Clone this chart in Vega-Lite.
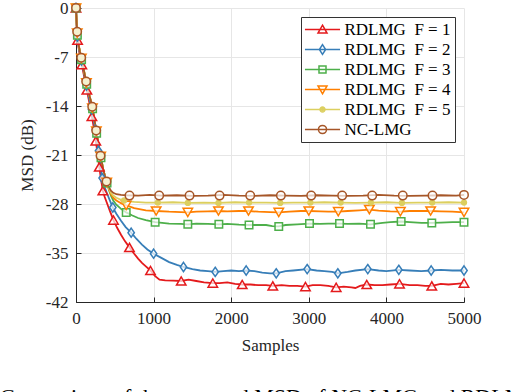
{
  "$schema": "https://vega.github.io/schema/vega-lite/v6.json",
  "width": 388,
  "height": 294,
  "autosize": {"type": "none"},
  "padding": {"left": 76, "top": 8, "right": 54, "bottom": 90},
  "background": "white",
  "title": {"text": "Comparison of the averaged MSD of NC-LMG and RDLMG", "orient": "bottom", "anchor": "start", "frame": "group", "dx": -76, "offset": 34, "font": "Liberation Serif", "fontSize": 22, "fontWeight": "normal", "color": "black"},
  "config": {
    "view": {"stroke": null},
    "axis": {"labelFont": "Liberation Serif", "labelFontSize": 17, "labelColor": "#262626", "titleFont": "Liberation Serif", "titleFontSize": 17, "titleFontWeight": "normal", "titleColor": "#262626", "domainColor": "#262626", "tickColor": "#262626", "gridColor": "#e6e6e6", "gridWidth": 1, "labelFlush": false, "labelOverlap": false, "labelBound": false},
    "legend": {"orient": "top-right", "offset": 9, "padding": 4, "strokeColor": "#333333", "fillColor": "white", "labelFont": "Liberation Serif", "labelFontSize": 17, "labelColor": "black", "symbolSize": 81, "symbolOffset": 9, "labelOffset": 13.5, "rowPadding": 2, "symbolStrokeWidth": 1.5, "labelLimit": 300}
  },
  "datasets": {
    "lines": [
      {"s":"F1","x":0,"y":0},{"s":"F1","x":10,"y":-2.9},{"s":"F1","x":20,"y":-4.6},{"s":"F1","x":35,"y":-5.8},{"s":"F1","x":50,"y":-6.8},{"s":"F1","x":75,"y":-8.1},{"s":"F1","x":100,"y":-9.5},{"s":"F1","x":125,"y":-10.9},{"s":"F1","x":150,"y":-12.3},{"s":"F1","x":175,"y":-13.7},{"s":"F1","x":200,"y":-15.2},{"s":"F1","x":225,"y":-16.8},{"s":"F1","x":250,"y":-18.6},{"s":"F1","x":275,"y":-20.6},{"s":"F1","x":300,"y":-22.7},{"s":"F1","x":320,"y":-24.3},{"s":"F1","x":346,"y":-26.1},{"s":"F1","x":370,"y":-27.0},{"s":"F1","x":400,"y":-27.9},{"s":"F1","x":440,"y":-29.1},{"s":"F1","x":483,"y":-30.3},{"s":"F1","x":530,"y":-31.4},{"s":"F1","x":580,"y":-32.4},{"s":"F1","x":630,"y":-33.3},{"s":"F1","x":689,"y":-34.2},{"s":"F1","x":750,"y":-35.1},{"s":"F1","x":800,"y":-35.8},{"s":"F1","x":850,"y":-36.4},{"s":"F1","x":900,"y":-36.9},{"s":"F1","x":960,"y":-37.5},{"s":"F1","x":1020,"y":-38.3},{"s":"F1","x":1076,"y":-38.8},{"s":"F1","x":1150,"y":-38.9},{"s":"F1","x":1250,"y":-38.95},{"s":"F1","x":1356,"y":-39.0},{"s":"F1","x":1450,"y":-38.8},{"s":"F1","x":1550,"y":-39.0},{"s":"F1","x":1650,"y":-39.2},{"s":"F1","x":1763,"y":-39.3},{"s":"F1","x":1850,"y":-39.3},{"s":"F1","x":1950,"y":-39.2},{"s":"F1","x":2050,"y":-39.4},{"s":"F1","x":2142,"y":-39.5},{"s":"F1","x":2250,"y":-39.5},{"s":"F1","x":2350,"y":-39.6},{"s":"F1","x":2450,"y":-39.6},{"s":"F1","x":2536,"y":-39.7},{"s":"F1","x":2650,"y":-39.6},{"s":"F1","x":2750,"y":-39.7},{"s":"F1","x":2850,"y":-39.7},{"s":"F1","x":2957,"y":-39.8},{"s":"F1","x":3050,"y":-39.6},{"s":"F1","x":3150,"y":-39.6},{"s":"F1","x":3250,"y":-39.7},{"s":"F1","x":3353,"y":-39.9},{"s":"F1","x":3450,"y":-39.8},{"s":"F1","x":3550,"y":-39.9},{"s":"F1","x":3600,"y":-40.0},{"s":"F1","x":3660,"y":-39.7},{"s":"F1","x":3747,"y":-39.5},{"s":"F1","x":3850,"y":-39.6},{"s":"F1","x":3950,"y":-39.6},{"s":"F1","x":4050,"y":-39.5},{"s":"F1","x":4169,"y":-39.4},{"s":"F1","x":4300,"y":-39.6},{"s":"F1","x":4400,"y":-39.6},{"s":"F1","x":4500,"y":-39.7},{"s":"F1","x":4585,"y":-39.7},{"s":"F1","x":4700,"y":-39.4},{"s":"F1","x":4800,"y":-39.5},{"s":"F1","x":4900,"y":-39.4},{"s":"F1","x":5000,"y":-39.3},

      {"s":"F2","x":0,"y":0},{"s":"F2","x":10,"y":-2.7},{"s":"F2","x":20,"y":-4.4},{"s":"F2","x":35,"y":-5.6},{"s":"F2","x":50,"y":-6.5},{"s":"F2","x":75,"y":-7.8},{"s":"F2","x":100,"y":-9.1},{"s":"F2","x":125,"y":-10.5},{"s":"F2","x":150,"y":-11.9},{"s":"F2","x":175,"y":-13.2},{"s":"F2","x":200,"y":-14.5},{"s":"F2","x":225,"y":-15.9},{"s":"F2","x":250,"y":-17.4},{"s":"F2","x":275,"y":-19.2},{"s":"F2","x":300,"y":-21.2},{"s":"F2","x":320,"y":-22.9},{"s":"F2","x":337,"y":-24.3},{"s":"F2","x":360,"y":-25.3},{"s":"F2","x":400,"y":-26.5},{"s":"F2","x":440,"y":-27.6},{"s":"F2","x":474,"y":-28.5},{"s":"F2","x":520,"y":-29.4},{"s":"F2","x":580,"y":-30.4},{"s":"F2","x":640,"y":-31.3},{"s":"F2","x":711,"y":-32.1},{"s":"F2","x":780,"y":-33.0},{"s":"F2","x":850,"y":-33.8},{"s":"F2","x":920,"y":-34.5},{"s":"F2","x":1000,"y":-35.1},{"s":"F2","x":1100,"y":-35.7},{"s":"F2","x":1200,"y":-36.3},{"s":"F2","x":1300,"y":-36.7},{"s":"F2","x":1385,"y":-37.0},{"s":"F2","x":1500,"y":-37.3},{"s":"F2","x":1600,"y":-37.5},{"s":"F2","x":1700,"y":-37.6},{"s":"F2","x":1794,"y":-37.7},{"s":"F2","x":1900,"y":-37.6},{"s":"F2","x":2000,"y":-37.5},{"s":"F2","x":2100,"y":-37.6},{"s":"F2","x":2193,"y":-37.5},{"s":"F2","x":2300,"y":-37.6},{"s":"F2","x":2400,"y":-37.8},{"s":"F2","x":2500,"y":-37.9},{"s":"F2","x":2580,"y":-37.9},{"s":"F2","x":2700,"y":-37.6},{"s":"F2","x":2800,"y":-37.5},{"s":"F2","x":2979,"y":-37.3},{"s":"F2","x":3100,"y":-37.5},{"s":"F2","x":3200,"y":-37.6},{"s":"F2","x":3300,"y":-37.7},{"s":"F2","x":3374,"y":-37.9},{"s":"F2","x":3500,"y":-37.7},{"s":"F2","x":3600,"y":-37.5},{"s":"F2","x":3760,"y":-37.3},{"s":"F2","x":3900,"y":-37.5},{"s":"F2","x":4000,"y":-37.6},{"s":"F2","x":4160,"y":-37.4},{"s":"F2","x":4300,"y":-37.5},{"s":"F2","x":4450,"y":-37.6},{"s":"F2","x":4577,"y":-37.5},{"s":"F2","x":4700,"y":-37.4},{"s":"F2","x":4850,"y":-37.5},{"s":"F2","x":5000,"y":-37.5},

      {"s":"F3","x":0,"y":0},{"s":"F3","x":10,"y":-2.5},{"s":"F3","x":20,"y":-4.2},{"s":"F3","x":35,"y":-5.3},{"s":"F3","x":50,"y":-6.2},{"s":"F3","x":75,"y":-7.5},{"s":"F3","x":100,"y":-8.8},{"s":"F3","x":125,"y":-10.2},{"s":"F3","x":150,"y":-11.5},{"s":"F3","x":175,"y":-12.6},{"s":"F3","x":200,"y":-13.6},{"s":"F3","x":225,"y":-15.1},{"s":"F3","x":250,"y":-16.8},{"s":"F3","x":275,"y":-18.5},{"s":"F3","x":300,"y":-20.1},{"s":"F3","x":325,"y":-21.6},{"s":"F3","x":350,"y":-23.0},{"s":"F3","x":375,"y":-24.1},{"s":"F3","x":400,"y":-25.0},{"s":"F3","x":425,"y":-26.0},{"s":"F3","x":450,"y":-26.8},{"s":"F3","x":480,"y":-27.5},{"s":"F3","x":520,"y":-28.1},{"s":"F3","x":580,"y":-28.7},{"s":"F3","x":647,"y":-29.2},{"s":"F3","x":720,"y":-29.6},{"s":"F3","x":800,"y":-30.0},{"s":"F3","x":900,"y":-30.3},{"s":"F3","x":1020,"y":-30.6},{"s":"F3","x":1200,"y":-30.8},{"s":"F3","x":1350,"y":-30.85},{"s":"F3","x":1441,"y":-30.9},{"s":"F3","x":1550,"y":-30.8},{"s":"F3","x":1700,"y":-30.85},{"s":"F3","x":1841,"y":-30.9},{"s":"F3","x":1950,"y":-30.85},{"s":"F3","x":2100,"y":-30.95},{"s":"F3","x":2230,"y":-31.0},{"s":"F3","x":2350,"y":-31.0},{"s":"F3","x":2450,"y":-31.0},{"s":"F3","x":2530,"y":-31.15},{"s":"F3","x":2613,"y":-31.2},{"s":"F3","x":2700,"y":-31.0},{"s":"F3","x":2850,"y":-30.9},{"s":"F3","x":3009,"y":-30.8},{"s":"F3","x":3150,"y":-30.85},{"s":"F3","x":3250,"y":-30.8},{"s":"F3","x":3396,"y":-30.8},{"s":"F3","x":3500,"y":-30.85},{"s":"F3","x":3650,"y":-30.8},{"s":"F3","x":3795,"y":-30.9},{"s":"F3","x":3950,"y":-30.7},{"s":"F3","x":4050,"y":-30.6},{"s":"F3","x":4190,"y":-30.5},{"s":"F3","x":4300,"y":-30.6},{"s":"F3","x":4450,"y":-30.7},{"s":"F3","x":4585,"y":-30.7},{"s":"F3","x":4700,"y":-30.65},{"s":"F3","x":4850,"y":-30.6},{"s":"F3","x":5000,"y":-30.6},

      {"s":"F4","x":0,"y":0},{"s":"F4","x":10,"y":-2.5},{"s":"F4","x":20,"y":-4.2},{"s":"F4","x":35,"y":-5.3},{"s":"F4","x":50,"y":-6.2},{"s":"F4","x":75,"y":-7.5},{"s":"F4","x":100,"y":-8.8},{"s":"F4","x":125,"y":-10.2},{"s":"F4","x":150,"y":-11.5},{"s":"F4","x":175,"y":-12.6},{"s":"F4","x":200,"y":-13.6},{"s":"F4","x":225,"y":-15.1},{"s":"F4","x":250,"y":-16.8},{"s":"F4","x":275,"y":-18.5},{"s":"F4","x":300,"y":-20.1},{"s":"F4","x":325,"y":-21.6},{"s":"F4","x":350,"y":-23.0},{"s":"F4","x":375,"y":-24.1},{"s":"F4","x":400,"y":-25.0},{"s":"F4","x":425,"y":-25.9},{"s":"F4","x":450,"y":-26.6},{"s":"F4","x":480,"y":-27.1},{"s":"F4","x":520,"y":-27.5},{"s":"F4","x":580,"y":-27.9},{"s":"F4","x":647,"y":-28.2},{"s":"F4","x":750,"y":-28.6},{"s":"F4","x":900,"y":-28.9},{"s":"F4","x":1033,"y":-29.0},{"s":"F4","x":1200,"y":-29.1},{"s":"F4","x":1350,"y":-29.15},{"s":"F4","x":1441,"y":-29.2},{"s":"F4","x":1550,"y":-29.1},{"s":"F4","x":1700,"y":-29.05},{"s":"F4","x":1836,"y":-29.0},{"s":"F4","x":1950,"y":-29.05},{"s":"F4","x":2100,"y":-29.0},{"s":"F4","x":2223,"y":-29.0},{"s":"F4","x":2350,"y":-29.1},{"s":"F4","x":2500,"y":-29.15},{"s":"F4","x":2613,"y":-29.2},{"s":"F4","x":2750,"y":-29.1},{"s":"F4","x":2900,"y":-29.0},{"s":"F4","x":3000,"y":-29.0},{"s":"F4","x":3150,"y":-29.05},{"s":"F4","x":3250,"y":-29.1},{"s":"F4","x":3380,"y":-29.1},{"s":"F4","x":3500,"y":-29.0},{"s":"F4","x":3650,"y":-28.9},{"s":"F4","x":3780,"y":-28.8},{"s":"F4","x":3900,"y":-28.95},{"s":"F4","x":4050,"y":-29.05},{"s":"F4","x":4180,"y":-29.1},{"s":"F4","x":4300,"y":-29.0},{"s":"F4","x":4450,"y":-29.0},{"s":"F4","x":4570,"y":-29.0},{"s":"F4","x":4700,"y":-29.05},{"s":"F4","x":4850,"y":-29.1},{"s":"F4","x":5000,"y":-29.2},

      {"s":"F5","x":0,"y":0},{"s":"F5","x":10,"y":-2.5},{"s":"F5","x":20,"y":-4.2},{"s":"F5","x":35,"y":-5.3},{"s":"F5","x":50,"y":-6.2},{"s":"F5","x":75,"y":-7.5},{"s":"F5","x":100,"y":-8.8},{"s":"F5","x":125,"y":-10.2},{"s":"F5","x":150,"y":-11.5},{"s":"F5","x":175,"y":-12.6},{"s":"F5","x":200,"y":-13.6},{"s":"F5","x":225,"y":-15.1},{"s":"F5","x":250,"y":-16.8},{"s":"F5","x":275,"y":-18.5},{"s":"F5","x":300,"y":-20.1},{"s":"F5","x":325,"y":-21.6},{"s":"F5","x":350,"y":-23.0},{"s":"F5","x":375,"y":-24.1},{"s":"F5","x":400,"y":-25.0},{"s":"F5","x":425,"y":-25.8},{"s":"F5","x":450,"y":-26.4},{"s":"F5","x":480,"y":-26.8},{"s":"F5","x":520,"y":-27.1},{"s":"F5","x":580,"y":-27.4},{"s":"F5","x":650,"y":-27.6},{"s":"F5","x":750,"y":-27.7},{"s":"F5","x":900,"y":-27.8},{"s":"F5","x":1054,"y":-27.8},{"s":"F5","x":1250,"y":-27.75},{"s":"F5","x":1441,"y":-27.85},{"s":"F5","x":1650,"y":-27.8},{"s":"F5","x":1836,"y":-27.85},{"s":"F5","x":2050,"y":-27.75},{"s":"F5","x":2230,"y":-27.8},{"s":"F5","x":2450,"y":-27.8},{"s":"F5","x":2631,"y":-27.85},{"s":"F5","x":2800,"y":-27.8},{"s":"F5","x":3020,"y":-27.8},{"s":"F5","x":3200,"y":-27.75},{"s":"F5","x":3410,"y":-27.8},{"s":"F5","x":3600,"y":-27.85},{"s":"F5","x":3800,"y":-27.8},{"s":"F5","x":4000,"y":-27.75},{"s":"F5","x":4200,"y":-27.85},{"s":"F5","x":4400,"y":-27.8},{"s":"F5","x":4590,"y":-27.8},{"s":"F5","x":4800,"y":-27.75},{"s":"F5","x":5000,"y":-27.8},

      {"s":"NC","x":0,"y":0},{"s":"NC","x":10,"y":-2.5},{"s":"NC","x":20,"y":-4.2},{"s":"NC","x":35,"y":-5.3},{"s":"NC","x":50,"y":-6.2},{"s":"NC","x":75,"y":-7.5},{"s":"NC","x":100,"y":-8.8},{"s":"NC","x":125,"y":-10.2},{"s":"NC","x":150,"y":-11.5},{"s":"NC","x":175,"y":-12.6},{"s":"NC","x":200,"y":-13.6},{"s":"NC","x":225,"y":-15.1},{"s":"NC","x":250,"y":-16.8},{"s":"NC","x":275,"y":-18.5},{"s":"NC","x":300,"y":-20.1},{"s":"NC","x":325,"y":-21.6},{"s":"NC","x":350,"y":-23.0},{"s":"NC","x":375,"y":-24.1},{"s":"NC","x":400,"y":-24.9},{"s":"NC","x":425,"y":-25.6},{"s":"NC","x":450,"y":-26.1},{"s":"NC","x":480,"y":-26.4},{"s":"NC","x":520,"y":-26.6},{"s":"NC","x":580,"y":-26.7},{"s":"NC","x":650,"y":-26.75},{"s":"NC","x":800,"y":-26.8},{"s":"NC","x":950,"y":-26.7},{"s":"NC","x":1100,"y":-26.8},{"s":"NC","x":1300,"y":-26.75},{"s":"NC","x":1500,"y":-26.85},{"s":"NC","x":1700,"y":-26.8},{"s":"NC","x":1900,"y":-26.7},{"s":"NC","x":2100,"y":-26.8},{"s":"NC","x":2300,"y":-26.85},{"s":"NC","x":2500,"y":-26.75},{"s":"NC","x":2700,"y":-26.8},{"s":"NC","x":2900,"y":-26.85},{"s":"NC","x":3100,"y":-26.75},{"s":"NC","x":3300,"y":-26.8},{"s":"NC","x":3500,"y":-26.85},{"s":"NC","x":3700,"y":-26.8},{"s":"NC","x":3900,"y":-26.7},{"s":"NC","x":4100,"y":-26.8},{"s":"NC","x":4300,"y":-26.85},{"s":"NC","x":4500,"y":-26.8},{"s":"NC","x":4700,"y":-26.75},{"s":"NC","x":4900,"y":-26.8},{"s":"NC","x":5000,"y":-26.7}
    ],
    "markers": [
      {"s":"F1","x":0,"y":0},{"s":"F1","x":20,"y":-4.6},{"s":"F1","x":75,"y":-8.1},{"s":"F1","x":140,"y":-11.7},{"s":"F1","x":205,"y":-15.5},{"s":"F1","x":255,"y":-19.0},{"s":"F1","x":300,"y":-22.7},{"s":"F1","x":346,"y":-26.1},{"s":"F1","x":483,"y":-30.3},{"s":"F1","x":689,"y":-34.2},{"s":"F1","x":960,"y":-37.5},{"s":"F1","x":1356,"y":-39.0},{"s":"F1","x":1763,"y":-39.3},{"s":"F1","x":2142,"y":-39.5},{"s":"F1","x":2536,"y":-39.7},{"s":"F1","x":2957,"y":-39.8},{"s":"F1","x":3353,"y":-39.9},{"s":"F1","x":3747,"y":-39.5},{"s":"F1","x":4169,"y":-39.4},{"s":"F1","x":4585,"y":-39.7},{"s":"F1","x":5000,"y":-39.3},
      {"s":"F2","x":0,"y":0},{"s":"F2","x":18,"y":-4.1},{"s":"F2","x":70,"y":-7.5},{"s":"F2","x":135,"y":-11.1},{"s":"F2","x":200,"y":-14.5},{"s":"F2","x":250,"y":-17.4},{"s":"F2","x":290,"y":-20.4},{"s":"F2","x":337,"y":-24.3},{"s":"F2","x":474,"y":-28.5},{"s":"F2","x":711,"y":-32.1},{"s":"F2","x":1000,"y":-35.1},{"s":"F2","x":1385,"y":-37.0},{"s":"F2","x":1794,"y":-37.7},{"s":"F2","x":2193,"y":-37.5},{"s":"F2","x":2580,"y":-37.9},{"s":"F2","x":2979,"y":-37.3},{"s":"F2","x":3374,"y":-37.9},{"s":"F2","x":3760,"y":-37.3},{"s":"F2","x":4160,"y":-37.4},{"s":"F2","x":4577,"y":-37.5},{"s":"F2","x":5000,"y":-37.5},
      {"s":"F3","x":0,"y":0},{"s":"F3","x":18,"y":-3.9},{"s":"F3","x":72,"y":-7.4},{"s":"F3","x":138,"y":-10.9},{"s":"F3","x":214,"y":-14.4},{"s":"F3","x":266,"y":-17.9},{"s":"F3","x":322,"y":-21.4},{"s":"F3","x":400,"y":-25.0},{"s":"F3","x":647,"y":-29.2},{"s":"F3","x":1020,"y":-30.6},{"s":"F3","x":1441,"y":-30.9},{"s":"F3","x":1841,"y":-30.9},{"s":"F3","x":2230,"y":-31.0},{"s":"F3","x":2613,"y":-31.2},{"s":"F3","x":3009,"y":-30.8},{"s":"F3","x":3396,"y":-30.8},{"s":"F3","x":3795,"y":-30.9},{"s":"F3","x":4190,"y":-30.5},{"s":"F3","x":4585,"y":-30.7},{"s":"F3","x":5000,"y":-30.6},
      {"s":"F4","x":0,"y":0},{"s":"F4","x":16,"y":-3.6},{"s":"F4","x":69,"y":-7.2},{"s":"F4","x":134,"y":-10.7},{"s":"F4","x":211,"y":-14.3},{"s":"F4","x":262,"y":-17.6},{"s":"F4","x":318,"y":-21.2},{"s":"F4","x":396,"y":-24.9},{"s":"F4","x":647,"y":-28.2},{"s":"F4","x":1033,"y":-29.0},{"s":"F4","x":1441,"y":-29.2},{"s":"F4","x":1836,"y":-29.0},{"s":"F4","x":2223,"y":-29.0},{"s":"F4","x":2613,"y":-29.2},{"s":"F4","x":3000,"y":-29.0},{"s":"F4","x":3380,"y":-29.1},{"s":"F4","x":3780,"y":-28.8},{"s":"F4","x":4180,"y":-29.1},{"s":"F4","x":4570,"y":-29.0},{"s":"F4","x":5000,"y":-29.2},
      {"s":"F5","x":0,"y":0},{"s":"F5","x":15,"y":-3.4},{"s":"F5","x":68,"y":-7.2},{"s":"F5","x":132,"y":-10.6},{"s":"F5","x":210,"y":-14.2},{"s":"F5","x":261,"y":-17.6},{"s":"F5","x":317,"y":-21.1},{"s":"F5","x":394,"y":-24.9},{"s":"F5","x":620,"y":-27.5},{"s":"F5","x":1054,"y":-27.8},{"s":"F5","x":1441,"y":-27.85},{"s":"F5","x":1836,"y":-27.85},{"s":"F5","x":2230,"y":-27.8},{"s":"F5","x":2631,"y":-27.85},{"s":"F5","x":3020,"y":-27.8},{"s":"F5","x":3410,"y":-27.8},{"s":"F5","x":3800,"y":-27.8},{"s":"F5","x":4200,"y":-27.85},{"s":"F5","x":4590,"y":-27.8},{"s":"F5","x":5000,"y":-27.8},
      {"s":"NC","x":0,"y":0},{"s":"NC","x":15,"y":-3.4},{"s":"NC","x":67,"y":-7.1},{"s":"NC","x":131,"y":-10.5},{"s":"NC","x":209,"y":-14.1},{"s":"NC","x":260,"y":-17.5},{"s":"NC","x":316,"y":-21.1},{"s":"NC","x":393,"y":-24.8},{"s":"NC","x":689,"y":-26.8},{"s":"NC","x":1072,"y":-26.8},{"s":"NC","x":1463,"y":-26.8},{"s":"NC","x":1850,"y":-26.8},{"s":"NC","x":2245,"y":-26.8},{"s":"NC","x":2640,"y":-26.8},{"s":"NC","x":3031,"y":-26.8},{"s":"NC","x":3430,"y":-26.8},{"s":"NC","x":3817,"y":-26.8},{"s":"NC","x":4211,"y":-26.8},{"s":"NC","x":4594,"y":-26.8},{"s":"NC","x":5000,"y":-26.7}
    ]
  },
  "encoding": {
    "x": {"field": "x", "type": "quantitative", "scale": {"domain": [0, 5000], "nice": false},
      "axis": {"title": "Samples", "values": [0, 1000, 2000, 3000, 4000, 5000], "labelExpr": "'' + datum.value", "labelFont": "Liberation Serif", "grid": true, "tickSize": -5, "labelPadding": 13, "titlePadding": 11}},
    "y": {"field": "y", "type": "quantitative", "scale": {"domain": [-42, 0], "nice": false},
      "axis": {"title": "MSD (dB)", "values": [-42, -35, -28, -21, -14, -7, 0], "labelExpr": "'' + datum.value", "labelFont": "Liberation Serif", "grid": true, "tickSize": -5, "labelPadding": 13, "titlePadding": 9}}
  },
  "layer": [
    {"data": {"name": "lines"}, "mark": {"type": "line", "strokeWidth": 1.8},
     "encoding": {"stroke": {"field": "s", "type": "nominal", "scale": {"domain": ["NC","F5","F4","F3","F2","F1"], "range": ["#a65628","#dccf5f","#ff7f00","#4daf4a","#377eb8","#e41a1c"]}, "legend": null}}},
    {"data": {"name": "markers"}, "transform": [{"filter": "datum.s === 'F1'"}], "mark": {"type": "point", "shape": "triangle-up", "size": 90, "stroke": "#e41a1c", "fill": "white", "fillOpacity": 0.7, "strokeWidth": 1.5, "opacity": 1}},
    {"data": {"name": "markers"}, "transform": [{"filter": "datum.s === 'F2'"}], "mark": {"type": "point", "shape": "M0,-1.15L0.8,0L0,1.15L-0.8,0Z", "size": 64, "stroke": "#377eb8", "fill": "white", "fillOpacity": 0.7, "strokeWidth": 1.5, "opacity": 1}},
    {"data": {"name": "markers"}, "transform": [{"filter": "datum.s === 'F3'"}], "mark": {"type": "point", "shape": "square", "size": 56, "stroke": "#4daf4a", "fill": "white", "fillOpacity": 0.7, "strokeWidth": 1.5, "opacity": 1}},
    {"data": {"name": "markers"}, "transform": [{"filter": "datum.s === 'F4'"}], "mark": {"type": "point", "shape": "triangle-down", "size": 90, "stroke": "#ff7f00", "fill": "white", "fillOpacity": 0.7, "strokeWidth": 1.5, "opacity": 1}},
    {"data": {"name": "markers"}, "transform": [{"filter": "datum.s === 'F5'"}], "mark": {"type": "point", "shape": "circle", "size": 40, "filled": true, "color": "#dccf5f", "opacity": 1}},
    {"data": {"name": "markers"}, "transform": [{"filter": "datum.s === 'NC'"}], "mark": {"type": "point", "shape": "circle", "size": 72, "stroke": "#a65628", "fill": "white", "fillOpacity": 0.7, "strokeWidth": 1.5, "opacity": 1}},
    {"data": {"name": "markers"}, "transform": [{"filter": "datum.x < 0"}], "mark": {"type": "point", "filled": false, "strokeWidth": 1.5, "size": 81, "opacity": 1},
     "encoding": {
       "color": {"field": "s", "type": "nominal", "scale": {"domain": ["F1","F2","F3","F4","F5","NC"], "range": ["#e41a1c","#377eb8","#4daf4a","#ff7f00","#dccf5f","#a65628"]},
         "legend": {"title": null, "labelExpr": "{'F1':'RDLMG\u00a0\u00a0F = 1','F2':'RDLMG\u00a0\u00a0F = 2','F3':'RDLMG\u00a0\u00a0F = 3','F4':'RDLMG\u00a0\u00a0F = 4','F5':'RDLMG\u00a0\u00a0F = 5','NC':'NC-LMG'}[datum.value]"}},
       "shape": {"field": "s", "type": "nominal", "scale": {"domain": ["F1","F2","F3","F4","F5","NC"], "range": [
         "M-3.9,0H3.9M0,-0.95L1,0.8L-1,0.8Z",
         "M-3.9,0H3.9M0,-1.1L0.7,0L0,1.1L-0.7,0Z",
         "M-3.9,0H3.9M-0.78,-0.78H0.78V0.78H-0.78Z",
         "M-3.9,0H3.9M0,0.95L1,-0.8L-1,-0.8Z",
         "M-3.9,0H3.9M-0.55,0A0.55,0.55 0 1,0 0.55,0A0.55,0.55 0 1,0 -0.55,0M-0.2,0A0.2,0.2 0 1,0 0.2,0A0.2,0.2 0 1,0 -0.2,0",
         "M-3.9,0H3.9M-0.9,0A0.9,0.9 0 1,0 0.9,0A0.9,0.9 0 1,0 -0.9,0"]},
         "legend": {"title": null, "labelExpr": "{'F1':'RDLMG\u00a0\u00a0F = 1','F2':'RDLMG\u00a0\u00a0F = 2','F3':'RDLMG\u00a0\u00a0F = 3','F4':'RDLMG\u00a0\u00a0F = 4','F5':'RDLMG\u00a0\u00a0F = 5','NC':'NC-LMG'}[datum.value]"}}
     }}
  ]
}
